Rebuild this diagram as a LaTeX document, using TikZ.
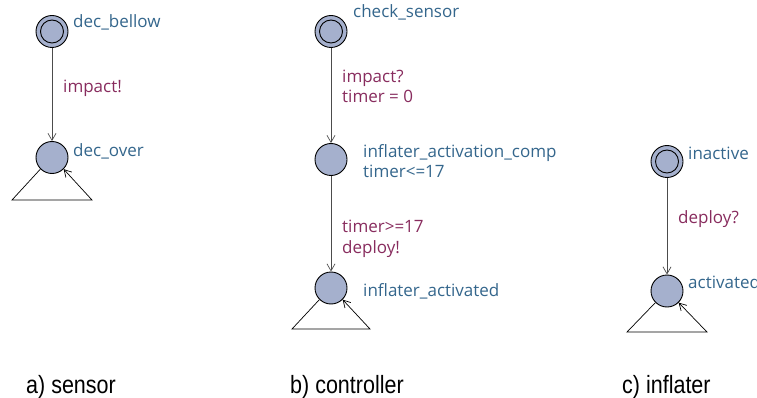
\documentclass[tikz,border=0pt]{standalone}
\usepackage{fontspec}
\setmainfont{Open Sans}
\newfontfamily\capfont{Liberation Sans}
\usetikzlibrary{arrows.meta}
\definecolor{locfill}{RGB}{165,176,205}
\definecolor{locname}{RGB}{52,102,140}
\definecolor{edgelab}{RGB}{136,44,94}
\tikzset{
  loc/.style={circle,draw=black,line width=0.9pt,fill=locfill,minimum size=32pt,inner sep=0pt},
  locname/.style={anchor=base west,text=locname,font=\fontsize{17}{20}\selectfont,inner sep=0pt,align=left},
  edgelab/.style={anchor=base west,text=edgelab,font=\fontsize{17}{20.5}\selectfont,inner sep=0pt,align=left},
  trans/.style={draw=black!70,line width=0.7pt,-{Straight Barb[length=7pt,width=8pt]}},
  selfloop/.style={draw=black,line width=0.7pt,-{Straight Barb[length=7pt,width=8pt]}},
  caption/.style={anchor=base west,inner sep=0pt,font=\capfont\fontsize{25}{30}\selectfont}
}
\newcommand{\initring}[1]{\draw[line width=0.9pt] (#1) circle[radius=11.5pt];}
\begin{document}
\begin{tikzpicture}[x=1pt,y=-1pt]
\useasboundingbox (0,0) rectangle (757,398);

% --- sensor ---
\node[loc] (s0) at (52,31.5) {};
\initring{s0}
\node[loc] (s1) at (52,157.5) {};
\node[locname] (s0n) at (73,28) {dec\_bellow};
\node[locname] (s1n) at (73,157) {dec\_over};
\draw[trans] (s0) -- (s1);
\node[edgelab] (s01) at (63,93) {impact!};
\coordinate (s1l) at (12,200);
\coordinate (s1r) at (92,200);
\draw[selfloop] (s1.225) -- (s1l) -- (s1r) -- (s1.-45);

% --- controller ---
\node[loc] (c0) at (331,31.5) {};
\initring{c0}
\node[loc] (c1) at (331,159.5) {};
\node[loc] (c2) at (331,288) {};
\node[locname] (c0n) at (353,18) {check\_sensor};
\node[locname] (c1n) at (363,178) {inflater\_activation\_comp\\timer<=17};
\node[locname] (c2n) at (363,296) {inflater\_activated};
\draw[trans] (c0) -- (c1);
\draw[trans] (c1) -- (c2);
\node[edgelab] (c01) at (342,103) {impact?\\timer = 0};
\node[edgelab] (c12) at (342,253) {timer>=17\\deploy!};
\coordinate (c2l) at (292,329);
\coordinate (c2r) at (370,329);
\draw[selfloop] (c2.225) -- (c2l) -- (c2r) -- (c2.-45);

% --- inflater ---
\node[loc] (i0) at (667,161.5) {};
\initring{i0}
\node[loc] (i1) at (667,291) {};
\node[locname] (i0n) at (688,160) {inactive};
\node[locname] (i1n) at (688,288) {activated};
\draw[trans] (i0) -- (i1);
\node[edgelab] (i01) at (678,223) {deploy?};
\coordinate (i1l) at (627,332);
\coordinate (i1r) at (707,332);
\draw[selfloop] (i1.225) -- (i1l) -- (i1r) -- (i1.-45);

% --- captions ---
\node[caption] (capa) at (26,393) {\scalebox{0.86}[1]{a) sensor}};
\node[caption] (capb) at (290,393) {\scalebox{0.86}[1]{b) controller}};
\node[caption] (capc) at (622,393) {\scalebox{0.86}[1]{c) inflater}};
\end{tikzpicture}
\end{document}
